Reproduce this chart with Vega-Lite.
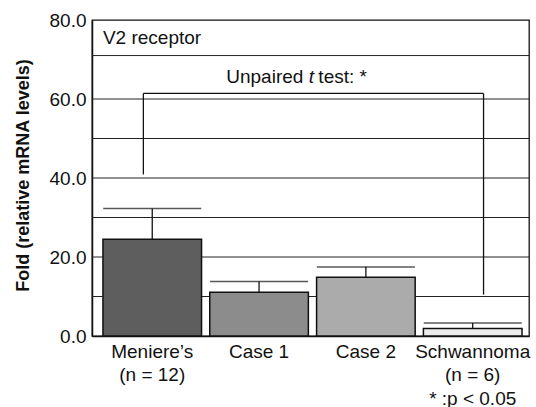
{
  "$schema": "https://vega.github.io/schema/vega-lite/v6.json",
  "width": 437,
  "height": 316,
  "autosize": {"type": "none"},
  "padding": {"left": 92, "top": 20, "right": 7, "bottom": 71},
  "background": "white",
  "config": {
    "font": "Liberation Sans",
    "view": {"stroke": "#111", "strokeWidth": 1.3}
  },
  "datasets": {
    "bars": [
      {"group": "Meniere’s|(n = 12)", "value": 24.5, "upper": 32.3},
      {"group": "Case 1", "value": 11.1, "upper": 13.8},
      {"group": "Case 2", "value": 14.9, "upper": 17.5},
      {"group": "Schwannoma|(n = 6)|* :p < 0.05", "value": 1.9, "upper": 3.3}
    ],
    "grid": [
      {"level": 10}, {"level": 20}, {"level": 30}, {"level": 40},
      {"level": 50}, {"level": 60}, {"level": 71}
    ]
  },
  "layer": [
    {
      "data": {"name": "grid"},
      "mark": {"type": "rule", "color": "#222", "strokeWidth": 1},
      "encoding": {
        "y": {
          "field": "level",
          "type": "quantitative",
          "scale": {"domain": [0, 80], "nice": false},
          "axis": {
            "title": "Fold (relative mRNA levels)",
            "titleFontSize": 18,
            "titleFontWeight": "bold",
            "titleColor": "#111",
            "titleX": -69,
            "titleY": 155,
            "titleAlign": "center",
            "titleBaseline": "middle",
            "titleAngle": -90,
            "values": [0, 20, 40, 60, 80],
            "format": ".1f",
            "labelFontSize": 19,
            "labelColor": "#111",
            "labelPadding": 6,
            "ticks": false,
            "grid": false,
            "domain": true,
            "domainColor": "#111",
            "domainWidth": 1.5
          }
        }
      }
    },
    {
      "data": {"name": "bars"},
      "mark": {"type": "bar", "stroke": "#111", "strokeWidth": 1.5},
      "encoding": {
        "x": {
          "field": "group",
          "type": "nominal",
          "sort": null,
          "scale": {
            "domain": ["Meniere’s|(n = 12)", "Case 1", "Case 2", "Schwannoma|(n = 6)|* :p < 0.05"],
            "paddingInner": 0.077,
            "paddingOuter": 0.084,
            "align": 0.61
          },
          "axis": {
            "title": null,
            "labelAngle": 0,
            "ticks": false,
            "domain": true,
            "domainColor": "#111",
            "domainWidth": 1.5,
            "labelExpr": "split(datum.label, '|')",
            "labelFontSize": 19,
            "labelColor": "#111",
            "labelLineHeight": 23.5,
            "labelPadding": 6,
            "labelBaseline": "top"
          }
        },
        "y": {"field": "value", "type": "quantitative"},
        "color": {
          "field": "group",
          "type": "nominal",
          "scale": {
            "domain": ["Meniere’s|(n = 12)", "Case 1", "Case 2", "Schwannoma|(n = 6)|* :p < 0.05"],
            "range": ["#5e5e5e", "#8c8c8c", "#ababab", "#ececec"]
          },
          "legend": null
        }
      }
    },
    {
      "data": {"name": "bars"},
      "mark": {"type": "rule", "color": "#111", "strokeWidth": 1.3},
      "encoding": {
        "x": {"field": "group", "type": "nominal"},
        "y": {"field": "value", "type": "quantitative"},
        "y2": {"field": "upper"}
      }
    },
    {
      "data": {"name": "bars"},
      "mark": {"type": "tick", "color": "#111", "thickness": 1.5, "size": 98, "orient": "horizontal"},
      "encoding": {
        "x": {"field": "group", "type": "nominal"},
        "y": {"field": "upper", "type": "quantitative"}
      }
    },
    {
      "data": {"values": [{"group": "Meniere’s|(n = 12)", "lo": 40.9, "hi": 61.4}]},
      "mark": {"type": "rule", "color": "#111", "strokeWidth": 1.3},
      "encoding": {
        "x": {"field": "group", "type": "nominal", "bandPosition": 0.41},
        "y": {"field": "lo", "type": "quantitative"},
        "y2": {"field": "hi"}
      }
    },
    {
      "data": {"values": [{"group": "Schwannoma|(n = 6)|* :p < 0.05", "lo": 10.5, "hi": 61.4}]},
      "mark": {"type": "rule", "color": "#111", "strokeWidth": 1.3},
      "encoding": {
        "x": {"field": "group", "type": "nominal", "bandPosition": 0.61},
        "y": {"field": "lo", "type": "quantitative"},
        "y2": {"field": "hi"}
      }
    },
    {
      "data": {"values": [{"from": "Meniere’s|(n = 12)", "to": "Schwannoma|(n = 6)|* :p < 0.05", "level": 61.4}]},
      "mark": {"type": "rule", "color": "#111", "strokeWidth": 1.3},
      "encoding": {
        "x": {"field": "from", "type": "nominal", "bandPosition": 0.41},
        "x2": {"field": "to", "bandPosition": 0.61},
        "y": {"field": "level", "type": "quantitative"}
      }
    },
    {
      "data": {"values": [{"group": "Meniere’s|(n = 12)", "level": 75.5, "text": "V2 receptor"}]},
      "mark": {"type": "text", "align": "left", "baseline": "middle", "fontSize": 19, "color": "#111"},
      "encoding": {
        "x": {"field": "group", "type": "nominal", "bandPosition": 0},
        "y": {"field": "level", "type": "quantitative"},
        "text": {"field": "text"}
      }
    },
    {
      "data": {"values": [{"group": "Case 1", "level": 65.6, "text": "Unpaired"}]},
      "mark": {"type": "text", "align": "right", "baseline": "middle", "fontSize": 19, "color": "#111", "dx": -5},
      "encoding": {
        "x": {"field": "group", "type": "nominal", "bandPosition": 1},
        "y": {"field": "level", "type": "quantitative"},
        "text": {"field": "text"}
      }
    },
    {
      "data": {"values": [{"group": "Case 1", "level": 65.6, "text": "t"}]},
      "mark": {"type": "text", "align": "center", "baseline": "middle", "fontSize": 19, "fontStyle": "italic", "color": "#111", "dx": 3},
      "encoding": {
        "x": {"field": "group", "type": "nominal", "bandPosition": 1},
        "y": {"field": "level", "type": "quantitative"},
        "text": {"field": "text"}
      }
    },
    {
      "data": {"values": [{"group": "Case 1", "level": 65.6, "text": "test: *"}]},
      "mark": {"type": "text", "align": "left", "baseline": "middle", "fontSize": 19, "color": "#111", "dx": 10},
      "encoding": {
        "x": {"field": "group", "type": "nominal", "bandPosition": 1},
        "y": {"field": "level", "type": "quantitative"},
        "text": {"field": "text"}
      }
    }
  ]
}
